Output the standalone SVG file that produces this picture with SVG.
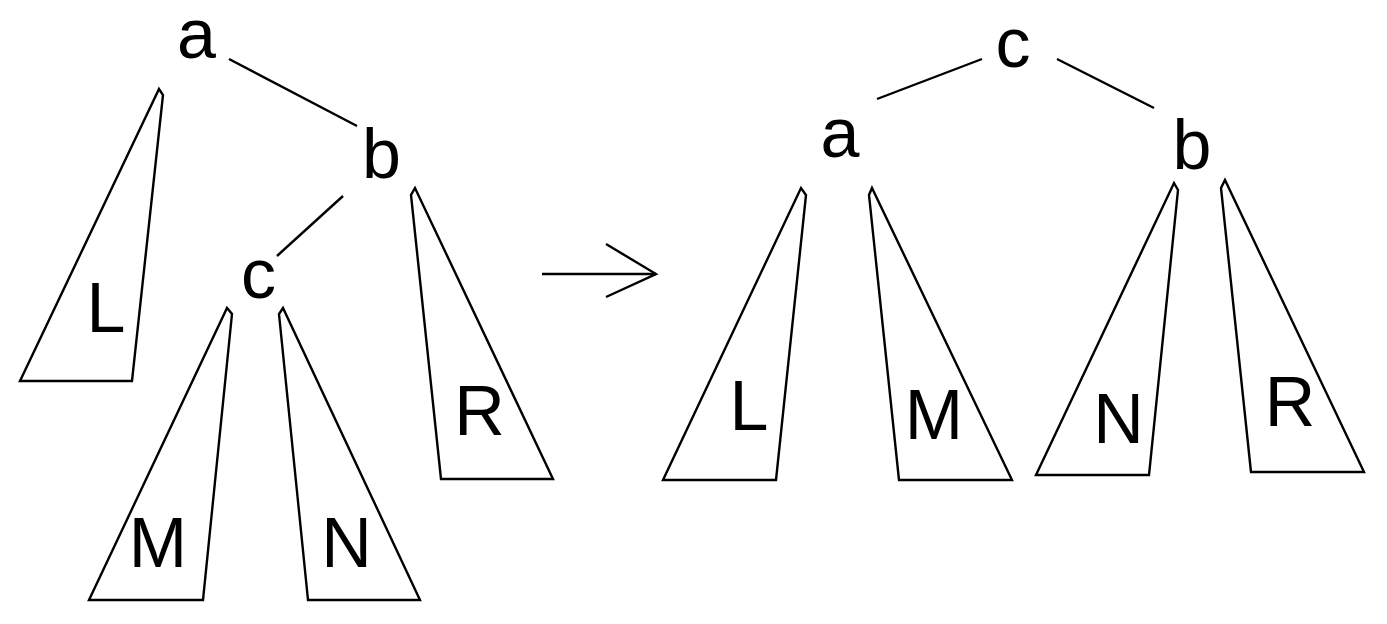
<svg xmlns="http://www.w3.org/2000/svg" width="1387" height="624" viewBox="0 0 1387 624">
<style>
.t{font-family:"Liberation Sans",Arial,sans-serif;font-size:70px;fill:#000;text-anchor:middle}
.s{fill:none;stroke:#000;stroke-width:2.4;stroke-linejoin:miter}
.e{stroke:#000;stroke-width:2.4;fill:none}
</style>
<rect width="1387" height="624" fill="#fff"/>
<g id="connectors">
<line class="e" x1="229" y1="59" x2="357" y2="126"/>
<line class="e" x1="343" y1="196" x2="277" y2="256"/>
<line class="e" x1="982" y1="59" x2="877" y2="99"/>
<line class="e" x1="1057" y1="59" x2="1154" y2="108"/>
<g id="arrow">
<line class="e" x1="542" y1="274" x2="656" y2="274"/>
<polyline class="e" points="606,244 656,274 606,297"/>
</g>
</g>
<g id="left-a"><text class="t" x="196.5" y="58">a</text></g>
<g id="left-b"><text class="t" x="381.5" y="178">b</text></g>
<g id="left-c"><text class="t" x="258.5" y="298">c</text></g>
<g id="left-L"><polygon class="s" points="20,381 159,89 163,95 132,381"/><text class="t" x="106" y="332">L</text></g>
<g id="left-M"><polygon class="s" points="89,600 227,308 232,314 203,600"/><text class="t" x="158" y="567">M</text></g>
<g id="left-N"><polygon class="s" points="308,600 279,314 283,308 420,600"/><text class="t" x="346.5" y="567">N</text></g>
<g id="left-R"><polygon class="s" points="441,479 411,195 415,188 553,479"/><text class="t" x="479.5" y="435">R</text></g>
<g id="right-c"><text class="t" x="1013" y="67">c</text></g>
<g id="right-a"><text class="t" x="840" y="157">a</text></g>
<g id="right-b"><text class="t" x="1192" y="169">b</text></g>
<g id="right-L"><polygon class="s" points="663,480 801,188 806,195 776,480"/><text class="t" x="749" y="430">L</text></g>
<g id="right-M"><polygon class="s" points="899,480 869,195 872,188 1012,480"/><text class="t" x="934" y="439">M</text></g>
<g id="right-N"><polygon class="s" points="1036,475 1174,183 1178,190 1149,475"/><text class="t" x="1118.5" y="443">N</text></g>
<g id="right-R"><polygon class="s" points="1251,472 1221,188 1225,180 1364,472"/><text class="t" x="1290" y="426">R</text></g>
</svg>
